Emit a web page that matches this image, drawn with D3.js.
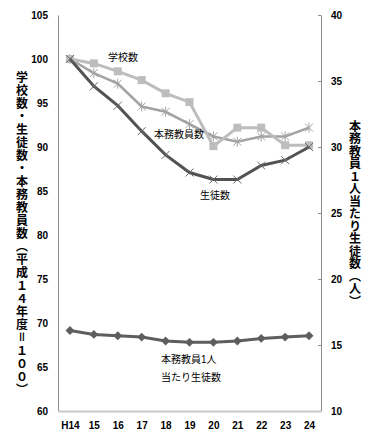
<!DOCTYPE html>
<html>
<head>
<meta charset="utf-8">
<script src="https://d3js.org/d3.v7.min.js"></script>
<style>
  body { margin: 0; background: #fff; }
  text { font-family: "Liberation Sans", "Noto Sans CJK JP", sans-serif; }
</style>
</head>
<body>
<div id="chart"></div>
<script>
// 年度
const years = ["H14", "15", "16", "17", "18", "19", "20", "21", "22", "23", "24"];
// 指数（平成14年度=100）
const schools = [100, 99.5, 98.6, 97.6, 96.1, 95.1, 90.1, 92.2, 92.2, 90.2, 90.2];
const teachers = [100, 98.4, 97.2, 94.6, 94.0, 92.6, 91.2, 90.6, 91.2, 91.2, 92.2];
const students = [100, 96.9, 94.7, 91.8, 89.1, 87.1, 86.3, 86.3, 87.9, 88.5, 90.0];
// 本務教員1人当たり生徒数（人）
const perTeacher = [16.1, 15.8, 15.7, 15.6, 15.3, 15.2, 15.2, 15.3, 15.5, 15.6, 15.7];

const leftTicks = [60, 65, 70, 75, 80, 85, 90, 95, 100, 105];
const rightTicks = [10, 15, 20, 25, 30, 35, 40];

const W = 376, H = 443;
const svg = d3.select("#chart").append("svg")
    .attr("width", W).attr("height", H);

const x = d3.scalePoint().domain(years).range([58, 321]).padding(0.5);
const yL = d3.scaleLinear().domain([60, 105]).range([411, 15]);
const yR = d3.scaleLinear().domain([10, 40]).range([411, 15]);

// 左軸
const gL = svg.append("g").attr("transform", "translate(58,0)")
    .call(d3.axisLeft(yL).tickValues(leftTicks).tickSize(0).tickPadding(10));
gL.select(".domain").attr("stroke", "#8c8c8c");
gL.selectAll("text").attr("font-size", 10).attr("font-weight", "bold").attr("fill", "#000");

// 右軸
const gR = svg.append("g").attr("transform", "translate(321,0)")
    .call(d3.axisRight(yR).tickValues(rightTicks).tickSizeInner(-3).tickSizeOuter(0).tickPadding(10));
gR.select(".domain").attr("stroke", "#8c8c8c");
gR.selectAll(".tick line").attr("stroke", "#8c8c8c");
gR.selectAll("text").attr("font-size", 10).attr("font-weight", "bold").attr("fill", "#000");

// 下軸
const gB = svg.append("g").attr("transform", "translate(0,411)")
    .call(d3.axisBottom(x).tickSize(0).tickPadding(11));
gB.select(".domain").attr("stroke", "#c8c8c8").attr("stroke-width", 2);
gB.selectAll("text").attr("font-size", 10).attr("font-weight", "bold").attr("fill", "#000");

const lineL = d3.line().x((d, i) => x(years[i])).y(d => yL(d));
const lineR = d3.line().x((d, i) => x(years[i])).y(d => yR(d));

// 本務教員数
svg.append("path").datum(teachers).attr("d", lineL)
    .attr("fill", "none").attr("stroke", "#a3a3a3").attr("stroke-width", 2.5);
teachers.forEach((v, i) => {
    const cx = x(years[i]), cy = yL(v);
    svg.append("path")
        .attr("d", `M${cx - 4},${cy - 4}L${cx + 4},${cy + 4}M${cx - 4},${cy + 4}L${cx + 4},${cy - 4}M${cx},${cy - 5}L${cx},${cy + 5}`)
        .attr("stroke", "#a3a3a3").attr("stroke-width", 1);
});

// 学校数
svg.append("path").datum(schools).attr("d", lineL)
    .attr("fill", "none").attr("stroke", "#bdbdbd").attr("stroke-width", 3);
svg.selectAll(".sq").data(schools).enter().append("rect")
    .attr("x", (d, i) => x(years[i]) - 4).attr("y", d => yL(d) - 4)
    .attr("width", 8).attr("height", 8).attr("fill", "#bdbdbd");

// 生徒数
svg.append("path").datum(students).attr("d", lineL)
    .attr("fill", "none").attr("stroke", "#525252").attr("stroke-width", 3);
students.forEach((v, i) => {
    const cx = x(years[i]), cy = yL(v);
    svg.append("path")
        .attr("d", `M${cx - 4},${cy - 4}L${cx + 4},${cy + 4}M${cx - 4},${cy + 4}L${cx + 4},${cy - 4}`)
        .attr("stroke", "#6a6a6a").attr("stroke-width", 1);
});

// 本務教員1人当たり生徒数
svg.append("path").datum(perTeacher).attr("d", lineR)
    .attr("fill", "none").attr("stroke", "#5e5e5e").attr("stroke-width", 3);
svg.selectAll(".dm").data(perTeacher).enter().append("path")
    .attr("transform", (d, i) => `translate(${x(years[i])},${yR(d)})`)
    .attr("d", d3.symbol(d3.symbolDiamond2, 50))
    .attr("fill", "#5e5e5e");

// 系列ラベル
const lab = svg.append("g").attr("font-size", 10).attr("fill", "#000")
    .style("font-family", "'Noto Sans CJK JP', sans-serif");
lab.append("text").attr("x", 108).attr("y", 61).text("学校数");
lab.append("text").attr("x", 154).attr("y", 138).text("本務教員数");
lab.append("text").attr("x", 200).attr("y", 199).text("生徒数");
lab.append("text").attr("x", 161).attr("y", 363).text("本務教員1人");
lab.append("text").attr("x", 161).attr("y", 381).text("当たり生徒数");

// 軸タイトル（縦書き）
svg.append("text")
    .attr("x", 22).attr("y", 234)
    .attr("text-anchor", "middle")
    .attr("font-size", 12).attr("font-weight", "bold")
    .style("font-family", "'Noto Sans CJK JP', sans-serif")
    .style("writing-mode", "vertical-rl").style("text-orientation", "upright")
    .style("letter-spacing", "1px")
    .text("学校数・生徒数・本務教員数（平成１４年度＝１００）");

svg.append("text")
    .attr("x", 355).attr("y", 214)
    .attr("text-anchor", "middle")
    .attr("font-size", 12).attr("font-weight", "bold")
    .style("font-family", "'Noto Sans CJK JP', sans-serif")
    .style("writing-mode", "vertical-rl").style("text-orientation", "upright")
    .style("letter-spacing", "0.5px")
    .text("本務教員１人当たり生徒数（人）");
</script>
</body>
</html>
